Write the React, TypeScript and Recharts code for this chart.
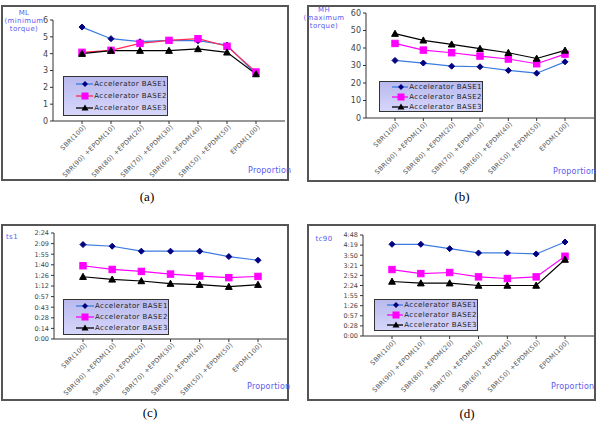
import React from 'react';
import { LineChart, Line, XAxis, YAxis } from 'recharts';

const categories = [
  'SBR(100)',
  'SBR(90) +EPDM(10)',
  'SBR(80) +EPDM(20)',
  'SBR(70) +EPDM(30)',
  'SBR(60) +EPDM(40)',
  'SBR(50) +EPDM(50)',
  'EPDM(100)',
];
const seriesNames = ['Accelerator BASE1', 'Accelerator BASE2', 'Accelerator BASE3'];

// (a) ML minimum torque
const mlBase1 = [5.58, 4.89, 4.71, 4.79, 4.77, 4.51, 2.79];
const mlBase2 = [4.08, 4.2, 4.61, 4.79, 4.89, 4.44, 2.91];
const mlBase3 = [4.0, 4.18, 4.18, 4.18, 4.28, 4.08, 2.79];
const mlTicks = [0, 1, 2, 3, 4, 5, 6];

// (b) MH maximum torque
const mhBase1 = [32.9, 31.4, 29.6, 29.3, 27.2, 25.6, 32.1];
const mhBase2 = [42.6, 38.8, 37.3, 35.4, 33.7, 31.0, 36.5];
const mhBase3 = [48.2, 44.4, 42.1, 39.6, 37.3, 34.0, 38.6];
const mhTicks = [0, 10, 20, 30, 40, 50, 60];

// (c) ts1 in seconds
const ts1Base1 = [128.3, 126, 119.3, 119.3, 119.3, 112, 107];
const ts1Base2 = [99.5, 94.5, 91.8, 88.2, 85.5, 83.3, 85];
const ts1Base3 = [84.6, 81, 78.8, 75.2, 73.8, 71.1, 73.8];
const ts1Ticks = [0, 14.4, 28.8, 43.2, 57.6, 72, 86.4, 100.8, 115.2, 129.6, 144];

// (d) tc90 in seconds
const tc90Base1 = [261.5, 261.5, 249, 236.8, 236.8, 234, 268];
const tc90Base2 = [189.5, 178, 181, 168.6, 164, 168.6, 227.4];
const tc90Base3 = [155.4, 150.6, 150.6, 144, 144, 144, 218];
const tc90Ticks = [0, 28.8, 57.6, 86.4, 115.2, 144, 172.8, 201.6, 230.4, 259.2, 288];

const FONT = '"DejaVu Sans", sans-serif';
const LABEL_BLUE = '#5a5af0';

const toRows = (a: number[], b: number[], c: number[]) =>
  categories.map((cat, i) => ({ cat, b1: a[i], b2: b[i], b3: c[i] }));

const timeFmt = (v: number) => {
  const s = Math.floor(v + 1e-6);
  return `${Math.floor(s / 60)}:${String(s % 60).padStart(2, '0')}`;
};
const numFmt = (v: number) => String(v);

const Diamond = (props: any) => {
  const { cx, cy } = props;
  if (cx == null || cy == null) return null;
  const r = 3;
  return <polygon points={`${cx},${cy - r} ${cx + r},${cy} ${cx},${cy + r} ${cx - r},${cy}`} fill="#000080" stroke="#000080" />;
};
const Square = (props: any) => {
  const { cx, cy } = props;
  if (cx == null || cy == null) return null;
  const r = 3.2;
  return <rect x={cx - r} y={cy - r} width={2 * r} height={2 * r} fill="#ff00ff" stroke="#ff00ff" />;
};
const Triangle = (props: any) => {
  const { cx, cy } = props;
  if (cx == null || cy == null) return null;
  const r = 3.4;
  return <polygon points={`${cx},${cy - r} ${cx + r},${cy + r * 0.8} ${cx - r},${cy + r * 0.8}`} fill="#000" stroke="#000" />;
};

const XTick = (props: any) => {
  const { x, y, payload } = props;
  return (
    <g transform={`translate(${x},${y})`}>
      <text
        x={0}
        y={0}
        dy={2}
        transform="translate(3,0) rotate(-45)"
        textAnchor="end"
        fontSize={6.5}
        fill="#555"
        fontFamily={FONT}
        style={{ letterSpacing: 0.3 }}
      >
        {payload.value}
      </text>
    </g>
  );
};

type Cfg = {
  frame: { x: number; y: number; w: number; h: number };
  plot: { l: number; t: number; r: number; b: number };
  rows: any[];
  ticks: number[];
  fmt: (v: number) => string;
  yFont: number;
  base2Line: string;
  yLabel: string[];
  yLabelPos: { x: number; y: number };
  legend: { x: number; y: number; w: number; h: number };
  proportion: { x: number; y: number };
  caption: { text: string; x: number; y: number };
};

const LegendBox = ({ box, base2Line }: { box: Cfg['legend']; base2Line: string }) => {
  const lineColors = ['#3a7be0', base2Line, '#000'];
  const markers = [
    <polygon key="d" points="9,2 12,5 9,8 6,5" fill="#000080" />,
    <rect key="s" x={5.5} y={1.5} width={7} height={7} fill="#ff00ff" />,
    <polygon key="t" points="9,1.5 12.5,7.5 5.5,7.5" fill="#000" />,
  ];
  return (
    <div
      style={{
        position: 'absolute',
        left: box.x,
        top: box.y,
        width: box.w,
        height: box.h,
        boxSizing: 'border-box',
        border: '1px solid #333',
        background: 'linear-gradient(180deg, #b9b9ee 0%, #d6d6fb 100%)',
        display: 'flex',
        flexDirection: 'column',
        justifyContent: 'space-evenly',
        paddingLeft: 12,
      }}
    >
      {seriesNames.map((n, i) => (
        <div key={n} style={{ display: 'flex', alignItems: 'center', height: 10 }}>
          <svg width={18} height={10} style={{ display: 'block' }}>
            <line x1={0} y1={5} x2={18} y2={5} stroke={lineColors[i]} strokeWidth={1.3} />
            {markers[i]}
          </svg>
          <span style={{ fontFamily: FONT, fontSize: 7, color: '#222', marginLeft: 1, letterSpacing: 0.45, whiteSpace: 'nowrap' }}>{n}</span>
        </div>
      ))}
    </div>
  );
};

const Panel = ({ cfg }: { cfg: Cfg }) => {
  const { frame, plot, rows, ticks, fmt } = cfg;
  const yAxisW = 30;
  const xAxisH = 40;
  const margin = {
    top: plot.t - frame.y,
    right: frame.x + frame.w - plot.r,
    left: plot.l - frame.x - yAxisW,
    bottom: frame.y + frame.h - plot.b - xAxisH,
  };
  const pad = Math.round((plot.r - plot.l) / 8);
  const dom: [number, number] = [ticks[0], ticks[ticks.length - 1]];
  return (
    <>
      <div
        style={{
          position: 'absolute',
          left: frame.x,
          top: frame.y,
          width: frame.w,
          height: frame.h,
          boxSizing: 'border-box',
          border: '2px solid #555',
        }}
      />
      <div style={{ position: 'absolute', left: frame.x, top: frame.y }}>
        <LineChart width={frame.w} height={frame.h} data={rows} margin={margin} style={{ overflow: 'visible' }}>
          <XAxis
            xAxisId="b"
            dataKey="cat"
            padding={{ left: pad, right: pad }}
            height={xAxisH}
            interval={0}
            tick={<XTick />}
            tickSize={3}
            tickLine={{ stroke: '#333' }}
            axisLine={{ stroke: '#333' }}
          />
          <XAxis
            xAxisId="t"
            dataKey="cat"
            orientation="top"
            height={0}
            tick={false}
            tickLine={false}
            axisLine={{ stroke: '#aaa' }}
          />
          <YAxis
            yAxisId="l"
            type="number"
            width={yAxisW}
            domain={dom}
            ticks={ticks}
            interval={0}
            tickFormatter={fmt}
            tickSize={3}
            tickLine={{ stroke: '#333' }}
            axisLine={{ stroke: '#333' }}
            tick={{ fontSize: cfg.yFont, fill: '#444', fontFamily: FONT }}
          />
          <YAxis
            yAxisId="r"
            orientation="right"
            type="number"
            width={0}
            domain={dom}
            ticks={ticks}
            tick={false}
            tickLine={false}
            axisLine={{ stroke: '#aaa' }}
          />
          <Line xAxisId="b" yAxisId="l" dataKey="b1" name={seriesNames[0]} stroke="#3a7be0" strokeWidth={1.2} dot={<Diamond />} isAnimationActive={false} />
          <Line xAxisId="b" yAxisId="l" dataKey="b2" name={seriesNames[1]} stroke={cfg.base2Line} strokeWidth={1.2} dot={<Square />} isAnimationActive={false} />
          <Line xAxisId="b" yAxisId="l" dataKey="b3" name={seriesNames[2]} stroke="#000" strokeWidth={1.2} dot={<Triangle />} isAnimationActive={false} />
        </LineChart>
      </div>
      <LegendBox box={cfg.legend} base2Line={cfg.base2Line} />
      <div
        style={{
          position: 'absolute',
          left: cfg.yLabelPos.x - 30,
          top: cfg.yLabelPos.y,
          width: 60,
          textAlign: 'center',
          fontFamily: FONT,
          fontSize: 7,
          lineHeight: '8px',
          color: LABEL_BLUE,
          letterSpacing: 0.4,
        }}
      >
        {cfg.yLabel.map((l) => (
          <div key={l}>{l}</div>
        ))}
      </div>
      <div
        style={{
          position: 'absolute',
          left: cfg.proportion.x,
          top: cfg.proportion.y,
          fontFamily: FONT,
          fontSize: 8,
          color: LABEL_BLUE,
          letterSpacing: 0.2,
        }}
      >
        Proportion
      </div>
      <div
        style={{
          position: 'absolute',
          left: cfg.caption.x - 20,
          top: cfg.caption.y,
          width: 40,
          textAlign: 'center',
          fontFamily: '"Liberation Serif", serif',
          fontSize: 13,
          color: '#000',
        }}
      >
        {cfg.caption.text}
      </div>
    </>
  );
};

const panels: Cfg[] = [
  {
    frame: { x: 1, y: 5, w: 288, h: 176 },
    plot: { l: 53, t: 20, r: 285, b: 121 },
    rows: toRows(mlBase1, mlBase2, mlBase3),
    ticks: mlTicks,
    fmt: numFmt,
    yFont: 8,
    base2Line: '#ff2a55',
    yLabel: ['ML', '(minimum', 'torque)'],
    yLabelPos: { x: 24, y: 9 },
    legend: { x: 63, y: 76, w: 105, h: 40 },
    proportion: { x: 248, y: 166 },
    caption: { text: '(a)', x: 147, y: 189 },
  },
  {
    frame: { x: 307, y: 5, w: 289, h: 177 },
    plot: { l: 366, t: 13, r: 594, b: 118 },
    rows: toRows(mhBase1, mhBase2, mhBase3),
    ticks: mhTicks,
    fmt: numFmt,
    yFont: 8,
    base2Line: '#ff00ff',
    yLabel: ['MH', '(maximum', 'torque)'],
    yLabelPos: { x: 324, y: 6 },
    legend: { x: 379, y: 81, w: 104, h: 31 },
    proportion: { x: 553, y: 167 },
    caption: { text: '(b)', x: 462, y: 189 },
  },
  {
    frame: { x: 1, y: 224, w: 288, h: 177 },
    plot: { l: 54, t: 233, r: 287, b: 339 },
    rows: toRows(ts1Base1, ts1Base2, ts1Base3),
    ticks: ts1Ticks,
    fmt: timeFmt,
    yFont: 6.5,
    base2Line: '#ff00ff',
    yLabel: ['ts1'],
    yLabelPos: { x: 12, y: 233 },
    legend: { x: 63, y: 299, w: 106, h: 36 },
    proportion: { x: 247, y: 382 },
    caption: { text: '(c)', x: 150, y: 405 },
  },
  {
    frame: { x: 307, y: 224, w: 289, h: 177 },
    plot: { l: 363, t: 235, r: 594, b: 336 },
    rows: toRows(tc90Base1, tc90Base2, tc90Base3),
    ticks: tc90Ticks,
    fmt: timeFmt,
    yFont: 6.5,
    base2Line: '#ff00ff',
    yLabel: ['tc90'],
    yLabelPos: { x: 324, y: 235 },
    legend: { x: 374, y: 299, w: 104, h: 32 },
    proportion: { x: 551, y: 382 },
    caption: { text: '(d)', x: 467, y: 406 },
  },
];

export default function App() {
  return (
    <div style={{ position: 'absolute', left: 0, top: 0, width: 597, height: 424, background: '#fff', overflow: 'hidden' }}>
      {panels.map((p, i) => (
        <Panel key={i} cfg={p} />
      ))}
    </div>
  );
}
